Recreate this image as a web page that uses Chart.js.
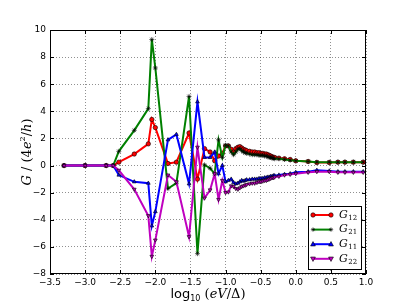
<!DOCTYPE html>
<html><head><meta charset="utf-8">
<script src="https://cdn.jsdelivr.net/npm/chart.js@4.4.1/dist/chart.umd.min.js"></script>
<style>html,body{margin:0;padding:0;background:#fff;} #wrap{width:407px;height:305px;}</style>
</head><body><div id="wrap"><canvas id="c" width="407" height="305"></canvas></div>
<script>
// x values: log10(eV/Δ)
const logEV = [-3.30,-3.00,-2.70,-2.60,-2.52,-2.30,-2.10,-2.05,-2.00,-1.82,-1.70,-1.52,-1.40,-1.30,-1.22,-1.155,-1.10,-1.046,-1.00,
  -0.96,-0.92,-0.886,-0.854,-0.824,-0.796,-0.77,-0.745,-0.72,-0.70,-0.658,-0.62,-0.585,-0.553,-0.523,-0.495,-0.469,-0.444,-0.42,-0.398,-0.377,-0.357,-0.337,-0.319,-0.301,
  -0.24,-0.16,-0.08,0.0,0.176,0.30,0.477,0.60,0.70,0.82,0.96];
const G12 = [0,0,0,0,0.25,0.85,1.6,3.4,2.8,0.15,0.25,2.4,-1.0,1.25,1.0,0.35,0.7,0.9,1.45,
  1.45,1.2,1.0,1.25,1.35,1.4,1.3,1.2,1.15,1.1,1.05,1.0,1.0,0.95,0.95,0.9,0.9,0.85,0.85,0.8,0.75,0.7,0.65,0.6,0.6,
  0.55,0.5,0.45,0.35,0.3,0.22,0.22,0.25,0.25,0.25,0.25];
const G21 = [0,0,0,0,1.05,2.6,4.2,9.3,7.2,-1.7,-1.3,5.1,-6.5,0.05,-0.2,-0.6,1.9,0.6,1.5,
  1.45,1.0,0.8,1.0,1.2,1.25,1.1,1.0,0.95,0.9,0.85,0.8,0.8,0.8,0.75,0.75,0.75,0.7,0.7,0.65,0.6,0.6,0.55,0.55,0.5,
  0.5,0.45,0.4,0.35,0.3,0.25,0.25,0.25,0.25,0.25,0.25];
const G11 = [0,0,0,0,-0.7,-1.2,-1.3,-4.45,-3.4,1.9,2.3,-1.35,4.7,0.6,0.6,1.0,-0.6,0.0,-1.2,
  -1.1,-1.0,-1.25,-1.35,-1.3,-1.2,-1.1,-1.15,-1.1,-1.05,-1.05,-1.0,-1.0,-1.0,-0.95,-0.95,-0.95,-0.9,-0.9,-0.85,-0.85,-0.8,-0.8,-0.75,-0.75,
  -0.7,-0.65,-0.6,-0.5,-0.45,-0.35,-0.4,-0.45,-0.45,-0.45,-0.45];
const G22 = [0,0,0,0,-0.35,-1.75,-3.7,-6.7,-5.5,-0.7,-1.2,-5.25,1.35,-2.4,-1.8,-0.6,-2.5,-1.1,-2.0,
  -1.95,-1.5,-1.55,-1.7,-1.75,-1.65,-1.55,-1.5,-1.45,-1.4,-1.35,-1.3,-1.3,-1.25,-1.2,-1.2,-1.15,-1.1,-1.1,-1.05,-1.0,-0.95,-0.9,-0.9,-0.85,
  -0.8,-0.7,-0.65,-0.6,-0.5,-0.45,-0.45,-0.5,-0.5,-0.5,-0.5];

const seriesLabels = [['G','12'],['G','21'],['G','11'],['G','22']];
const seriesData = [G12, G21, G11, G22];
const seriesColors = ['#ff0000','#008000','#0000ff','#bf00bf'];
const seriesMarkers = ['circle','star','triangle','triangle'];
const seriesRot = [0,0,0,180];

const datasets = seriesData.map((vals, i) => ({
  label: seriesLabels[i].join(''),
  data: logEV.map((x, k) => ({x: x, y: vals[k]})),
  showLine: true,
  borderColor: seriesColors[i],
  backgroundColor: seriesColors[i],
  borderWidth: 2,
  pointStyle: seriesMarkers[i],
  pointRotation: seriesRot[i],
  pointRadius: i === 1 ? 2.5 : 2.2,
  pointBackgroundColor: seriesColors[i],
  pointBorderColor: '#000',
  pointBorderWidth: 0.6,
  order: 3 - i,
  tension: 0
}));

function fmtMinus(s){ return String(s).replace('-', '\u2212'); }

function drawMarker(ctx, style, rot, x, y, r, fill){
  ctx.save();
  ctx.translate(x, y);
  ctx.rotate(rot * Math.PI / 180);
  ctx.fillStyle = fill; ctx.strokeStyle = '#000'; ctx.lineWidth = 0.6;
  ctx.beginPath();
  if (style === 'circle') { ctx.arc(0, 0, r, 0, Math.PI*2); ctx.fill(); ctx.stroke(); }
  else if (style === 'triangle') {
    ctx.moveTo(0, -r*1.2); ctx.lineTo(r*1.1, r*0.8); ctx.lineTo(-r*1.1, r*0.8); ctx.closePath(); ctx.fill(); ctx.stroke();
  } else {
    for (let k = 0; k < 4; k++) { const a = k * Math.PI/4; ctx.moveTo(Math.cos(a)*r, Math.sin(a)*r); ctx.lineTo(-Math.cos(a)*r, -Math.sin(a)*r); }
    ctx.stroke();
  }
  ctx.restore();
}

const framePlugin = {
  id: 'frame',
  afterDatasetsDraw(chart) {
    const {ctx, chartArea: a, scales} = chart;
    ctx.save();
    ctx.strokeStyle = '#000'; ctx.lineWidth = 1; ctx.setLineDash([]);
    ctx.strokeRect(a.left + 0.5, a.top + 0.5, a.right - a.left - 1, a.bottom - a.top - 1);
    ctx.beginPath();
    scales.x.ticks.forEach(t => {
      const px = Math.round(scales.x.getPixelForValue(t.value)) + 0.5;
      ctx.moveTo(px, a.bottom); ctx.lineTo(px, a.bottom - 4);
      ctx.moveTo(px, a.top); ctx.lineTo(px, a.top + 4);
    });
    scales.y.ticks.forEach(t => {
      const py = Math.round(scales.y.getPixelForValue(t.value)) + 0.5;
      ctx.moveTo(a.left, py); ctx.lineTo(a.left + 4, py);
      ctx.moveTo(a.right, py); ctx.lineTo(a.right - 4, py);
    });
    ctx.stroke();
    ctx.restore();
  },
  afterDraw(chart) {
    const {ctx, chartArea: a} = chart;
    ctx.save();
    // legend
    const bx = 308.5, by = 206.5, bw = 53, bh = 63;
    ctx.fillStyle = '#fff'; ctx.fillRect(bx, by, bw, bh);
    ctx.strokeStyle = '#000'; ctx.lineWidth = 1; ctx.strokeRect(bx, by, bw, bh);
    for (let i = 0; i < 4; i++) {
      const y = 215 + i * 14.6;
      ctx.strokeStyle = seriesColors[i]; ctx.lineWidth = 2;
      ctx.beginPath(); ctx.moveTo(313, y); ctx.lineTo(331, y); ctx.stroke();
      drawMarker(ctx, seriesMarkers[i], seriesRot[i], 313, y, 2.2, seriesColors[i]);
      drawMarker(ctx, seriesMarkers[i], seriesRot[i], 331, y, 2.2, seriesColors[i]);
      ctx.fillStyle = '#000'; ctx.textBaseline = 'middle'; ctx.textAlign = 'left';
      ctx.font = 'italic 11px "DejaVu Serif"';
      ctx.fillText(seriesLabels[i][0], 339, y);
      const w = ctx.measureText(seriesLabels[i][0]).width;
      ctx.font = '7px "DejaVu Serif"';
      ctx.fillText(seriesLabels[i][1], 339 + w + 0.5, y + 3);
    }
    // y title
    ctx.save();
    ctx.translate(28, (a.top + a.bottom) / 2);
    ctx.rotate(-Math.PI / 2);
    ctx.fillStyle = '#000'; ctx.textBaseline = 'middle'; ctx.textAlign = 'left';
    const parts = [['G', 'italic 13px "DejaVu Serif"', 0], [' / (4', '13px "DejaVu Serif"', 0], ['e', 'italic 13px "DejaVu Serif"', 0], ['2', '8px "DejaVu Serif"', -5], ['/', '13px "DejaVu Serif"', 0], ['h', 'italic 13px "DejaVu Serif"', 0], [')', '13px "DejaVu Serif"', 0]];
    let total = 0;
    parts.forEach(p => { ctx.font = p[1]; total += ctx.measureText(p[0]).width; });
    let cx = -total / 2;
    parts.forEach(p => { ctx.font = p[1]; ctx.fillText(p[0], cx, p[2]); cx += ctx.measureText(p[0]).width; });
    ctx.restore();
    // x title
    const xp = [['log', '13px "DejaVu Sans"', 0], ['10', '8px "DejaVu Sans"', 4], [' (', '13px "DejaVu Serif"', 0], ['eV', 'italic 13px "DejaVu Serif"', 0], ['/\u0394)', '13px "DejaVu Serif"', 0]];
    total = 0;
    xp.forEach(p => { ctx.font = p[1]; total += ctx.measureText(p[0]).width; });
    cx = (a.left + a.right) / 2 - total / 2;
    ctx.fillStyle = '#000'; ctx.textBaseline = 'middle'; ctx.textAlign = 'left';
    xp.forEach(p => { ctx.font = p[1]; ctx.fillText(p[0], cx, 295 + p[2]); cx += ctx.measureText(p[0]).width; });
    ctx.restore();
  }
};

new Chart(document.getElementById('c'), {
  type: 'scatter',
  data: { datasets },
  plugins: [framePlugin],
  options: {
    responsive: false,
    animation: false,
    layout: { padding: { left: 0, top: 30, right: 41, bottom: 0 } },
    plugins: { legend: { display: false }, tooltip: { enabled: false } },
    scales: {
      x: {
        type: 'linear', min: -3.5, max: 1.0,
        afterFit: s => { s.height = 31; },
        ticks: { stepSize: 0.5, color: '#000', font: { family: 'DejaVu Sans', size: 9 }, padding: 3, maxRotation: 0,
          callback: v => fmtMinus(Number(v).toFixed(1)) },
        grid: { color: 'rgba(0,0,0,0.55)', lineWidth: 0.8, drawTicks: false },
        border: { display: false, dash: [1, 2] }
      },
      y: {
        type: 'linear', min: -8, max: 10,
        afterFit: s => { s.width = 50; },
        ticks: { stepSize: 2, color: '#000', font: { family: 'DejaVu Sans', size: 9 }, padding: 4,
          callback: v => fmtMinus(Math.round(v)) },
        grid: { color: 'rgba(0,0,0,0.55)', lineWidth: 0.8, drawTicks: false },
        border: { display: false, dash: [1, 2] }
      }
    }
  }
});
</script></body></html>
